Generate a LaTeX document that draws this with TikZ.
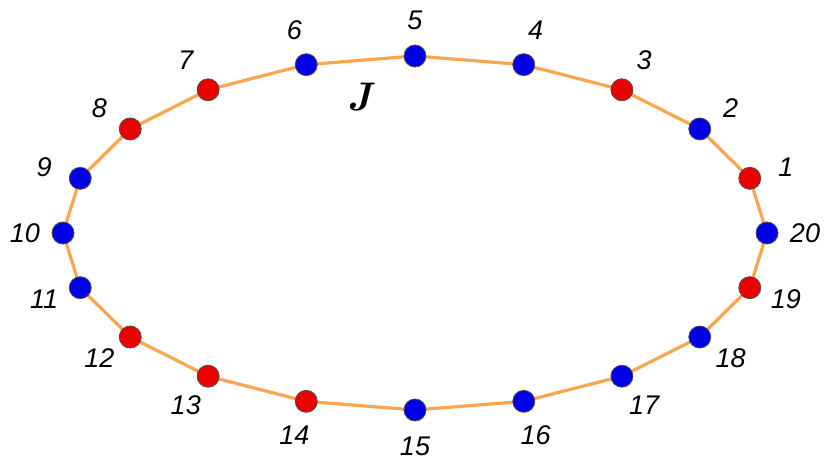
\documentclass[tikz,border=0pt]{standalone}
\usepackage{fontspec}
\setsansfont{Liberation Sans}
\begin{document}
\begin{tikzpicture}[x=1pt,y=-1pt]
\definecolor{edgeor}{RGB}{250,165,80}
\definecolor{nred}{RGB}{235,0,0}
\definecolor{nblue}{RGB}{0,0,230}
\tikzset{vtx/.style={circle,draw=black!70,line width=0.8pt,minimum size=22pt,inner sep=0pt},
 lbl/.style={font=\sffamily\itshape\fontsize{27}{30}\selectfont}}
\useasboundingbox (0,0) rectangle (830,468);
\foreach \k in {1,...,20}{
  \coordinate (p\k) at ({415+352*cos(18*\k)},{233-177*sin(18*\k)});
}
\draw[edgeor,line width=3.2pt,line join=round] (p1) \foreach \k in {2,...,20}{ -- (p\k)} -- cycle;
\foreach \k in {1,...,20}{
  \def\c{nblue}
  \foreach \r in {1,3,7,8,12,13,14,19}{\ifnum\k=\r\global\def\c{nred}\fi}
  \node[vtx,fill=\c] (n\k) at (p\k) {};
  \node[lbl] (l\k) at ({415+390*cos(18*\k)},{233-213*sin(18*\k)}) {\k};
}
\node[font=\bfseries\itshape\fontsize{40}{44}\selectfont] (J) at (360,97) {J};
\end{tikzpicture}
\end{document}
